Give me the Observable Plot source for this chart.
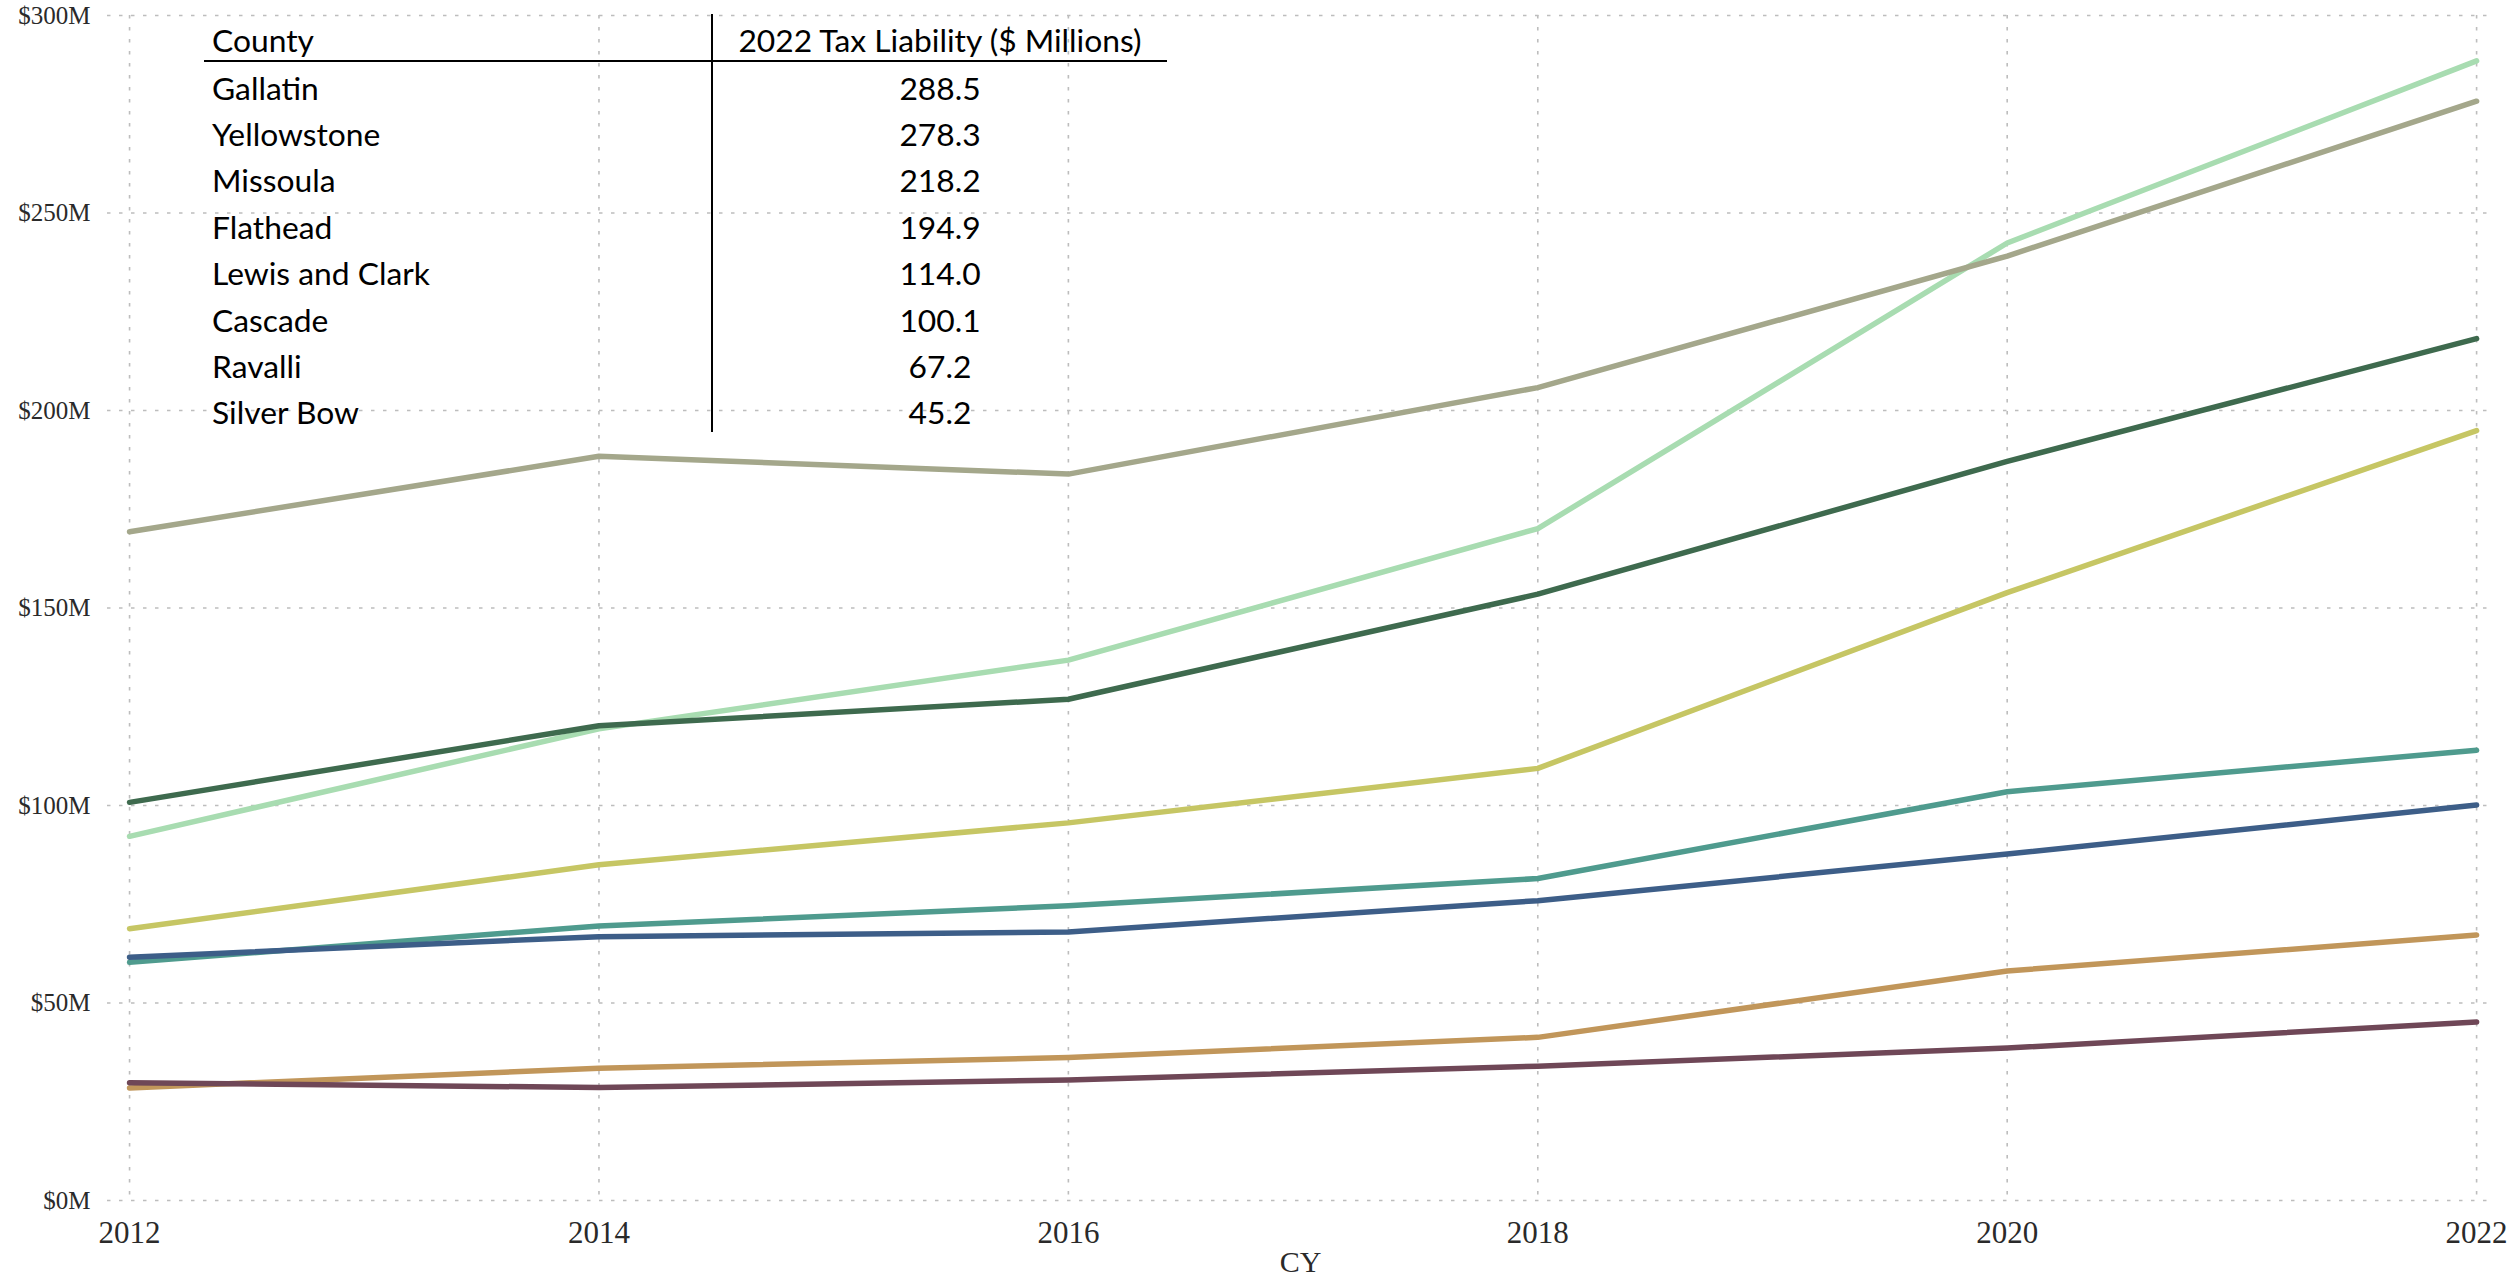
<!DOCTYPE html>
<html>
<head>
<meta charset="utf-8">
<script src="https://cdn.jsdelivr.net/npm/d3@7"></script>
<script src="https://cdn.jsdelivr.net/npm/@observablehq/plot@0.6"></script>
<style>
  html, body { margin: 0; padding: 0; background: #fff; }
  #wrap { position: relative; width: 2509px; height: 1282px; overflow: hidden; }
  #chart svg { display: block; }
  #tbl { position: absolute; left: 204px; top: 14px; border-collapse: collapse; font-family: Lato, "Noto Sans", sans-serif; color: #000; }
  #tbl td, #tbl th { padding: 0; margin: 0; font-weight: normal; white-space: nowrap; }
  #tbl th { height: 47px; vertical-align: bottom; border-bottom: 2px solid #000; box-sizing: border-box; }
  #tbl td { height: 46.4px; vertical-align: bottom; box-sizing: border-box; }
  #tbl .c1 { width: 508px; text-align: left; padding-left: 8px; border-right: 2px solid #000; box-sizing: border-box; }
  #tbl .c2 { width: 455px; text-align: center; }
  #tbl .in { display: block; line-height: 1; padding-bottom: 3px; }
</style>
</head>
<body>
<div id="wrap">
  <div id="chart"></div>
  <table id="tbl"><thead></thead><tbody></tbody></table>
</div>
<script>
// ---- data ----
const years = [2012, 2014, 2016, 2018, 2020, 2022];
const counties = ["Gallatin", "Yellowstone", "Missoula", "Flathead", "Lewis and Clark", "Cascade", "Ravalli", "Silver Bow"];
const gallatin      = [92.2, 119.4, 136.8, 170.1, 242.4, 288.5];
const yellowstone   = [169.3, 188.4, 183.9, 205.8, 239.1, 278.3];
const missoula      = [100.8, 120.2, 126.9, 153.5, 187.1, 218.2];
const flathead      = [68.8, 85.0, 95.6, 109.4, 153.9, 194.9];
const lewisAndClark = [60.3, 69.5, 74.6, 81.5, 103.5, 114.0];
const cascade       = [61.6, 66.8, 68.0, 75.9, 87.7, 100.1];
const ravalli       = [28.5, 33.5, 36.2, 41.3, 58.1, 67.2];
const silverBow     = [29.8, 28.6, 30.5, 34.0, 38.6, 45.2];
const liability2022 = ["288.5", "278.3", "218.2", "194.9", "114.0", "100.1", "67.2", "45.2"];
const yTicks = [0, 50, 100, 150, 200, 250, 300];
const tableHeader = ["County", "2022 Tax Liability ($ Millions)"];
const xLabel = "CY";

const colors = ["#a8dcb1", "#a4a78b", "#3e6a4e", "#c6c664", "#4f9b8e", "#3d5e88", "#c1965a", "#6f4757"];

const series = [gallatin, yellowstone, missoula, flathead, lewisAndClark, cascade, ravalli, silverBow];
const data = [];
counties.forEach((c, i) => years.forEach((yr, j) => data.push({county: c, year: yr, value: series[i][j]})));

const gridStyle = {stroke: "#bdbdbd", strokeOpacity: 1, strokeWidth: 1.6, strokeDasharray: "3.5,8.5"};

const chart = Plot.plot({
  width: 2509,
  height: 1282,
  marginTop: 15,
  marginBottom: 82,
  marginLeft: 107,
  marginRight: 16,
  style: {background: "white", fontFamily: "'Liberation Serif', serif", color: "#2a2a2a"},
  x: {domain: [2011.906, 2022.072]},
  y: {domain: [0, 300]},
  color: {domain: counties, range: colors},
  marks: [
    Plot.gridY(yTicks, gridStyle),
    Plot.gridX(years, gridStyle),
    Plot.axisY(yTicks, {tickSize: 0, tickPadding: 17, fontSize: 25, tickFormat: d => `$${d}M`, label: null}),
    Plot.axisX(years, {tickSize: 0, tickPadding: 20, fontSize: 31, tickFormat: d => String(d), label: null}),
    Plot.text([xLabel], {frameAnchor: "bottom", dy: 62, lineAnchor: "middle", fontSize: 30, fill: "#2a2a2a"}),
    Plot.line(data, {x: "year", y: "value", z: "county", stroke: "county", strokeWidth: 5.5, strokeLinecap: "round", strokeLinejoin: "round"})
  ]
});
document.getElementById("chart").appendChild(chart);

// ---- table overlay ----
const thead = document.querySelector("#tbl thead");
const tbody = document.querySelector("#tbl tbody");
thead.innerHTML = `<tr><th class="c1"><span class="in">${tableHeader[0]}</span></th><th class="c2"><span class="in">${tableHeader[1]}</span></th></tr>`;
counties.forEach((c, i) => {
  const tr = document.createElement("tr");
  tr.innerHTML = `<td class="c1"><span class="in">${c}</span></td><td class="c2"><span class="in">${liability2022[i]}</span></td>`;
  tbody.appendChild(tr);
});
// fit font size so the header text spans ~405px like the reference
const ctx = document.createElement("canvas").getContext("2d");
ctx.font = "100px Lato";
const w100 = ctx.measureText(tableHeader[1]).width;
const fs = Math.max(20, Math.min(34, 100 * 405 / w100));
document.getElementById("tbl").style.fontSize = fs.toFixed(2) + "px";
</script>
</body>
</html>
